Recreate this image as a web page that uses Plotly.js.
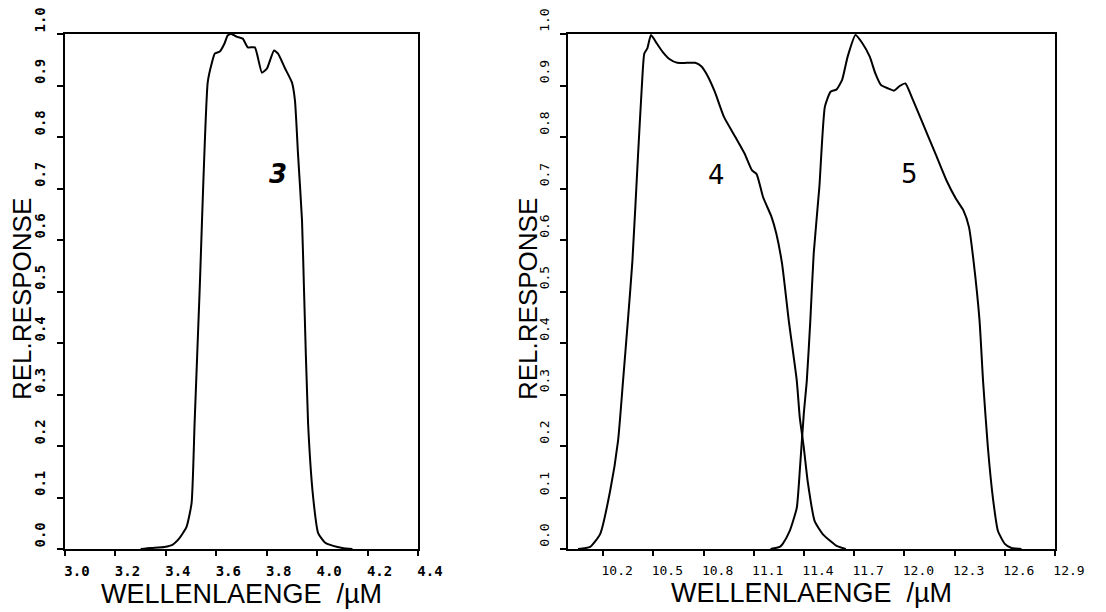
<!DOCTYPE html>
<html>
<head>
<meta charset="utf-8">
<script src="https://cdn.plot.ly/plotly-3.0.1.min.js"></script>
<style>html,body{margin:0;padding:0;background:#fff;}#chart{width:1106px;height:612px;}</style>
</head>
<body>
<div id="chart"></div>
<script>
// ---- data ----
var band3_x = [3.30, 3.34, 3.394, 3.426, 3.454, 3.482, 3.502, 3.514, 3.534, 3.566, 3.582, 3.594, 3.614, 3.633, 3.645, 3.66, 3.68, 3.705, 3.725, 3.753, 3.781, 3.801, 3.829, 3.845, 3.873, 3.900, 3.912, 3.924, 3.940, 3.948, 3.964, 3.984, 4.004, 4.032, 4.064, 4.100, 4.14];
var band3_y = [0.0, 0.002, 0.004, 0.008, 0.021, 0.043, 0.089, 0.244, 0.502, 0.906, 0.943, 0.962, 0.966, 0.982, 0.997, 1.0, 0.995, 0.991, 0.974, 0.974, 0.925, 0.933, 0.968, 0.962, 0.933, 0.906, 0.871, 0.768, 0.638, 0.502, 0.244, 0.101, 0.031, 0.012, 0.006, 0.002, 0.0];

var band4_x = [10.05, 10.122, 10.182, 10.242, 10.289, 10.319, 10.348, 10.375, 10.409, 10.431, 10.446, 10.464, 10.486, 10.520, 10.554, 10.598, 10.643, 10.699, 10.750, 10.788, 10.822, 10.867, 10.922, 10.990, 11.045, 11.090, 11.117, 11.156, 11.206, 11.235, 11.269, 11.309, 11.357, 11.375, 11.399, 11.422, 11.464, 11.512, 11.571, 11.595, 11.65];
var band4_y = [0.0, 0.004, 0.029, 0.113, 0.210, 0.327, 0.444, 0.560, 0.768, 0.897, 0.962, 0.972, 0.998, 0.982, 0.966, 0.951, 0.944, 0.944, 0.944, 0.937, 0.920, 0.888, 0.839, 0.800, 0.768, 0.735, 0.728, 0.683, 0.645, 0.612, 0.554, 0.444, 0.327, 0.255, 0.197, 0.132, 0.054, 0.029, 0.012, 0.006, 0.0];

var band5_x = [11.20, 11.255, 11.273, 11.315, 11.357, 11.375, 11.399, 11.417, 11.438, 11.458, 11.492, 11.525, 11.559, 11.593, 11.628, 11.661, 11.708, 11.749, 11.793, 11.827, 11.860, 11.905, 11.938, 11.972, 12.006, 12.051, 12.118, 12.185, 12.251, 12.308, 12.352, 12.386, 12.413, 12.449, 12.470, 12.499, 12.529, 12.559, 12.60, 12.64, 12.70];
var band5_y = [0.0, 0.004, 0.010, 0.035, 0.080, 0.152, 0.263, 0.327, 0.444, 0.573, 0.703, 0.859, 0.888, 0.892, 0.911, 0.956, 0.998, 0.982, 0.956, 0.923, 0.901, 0.894, 0.890, 0.899, 0.904, 0.872, 0.820, 0.768, 0.716, 0.680, 0.658, 0.625, 0.560, 0.444, 0.327, 0.197, 0.099, 0.035, 0.010, 0.002, 0.0];

var xticks_left = [3.0, 3.2, 3.4, 3.6, 3.8, 4.0, 4.2, 4.4];
var xticks_right = [10.2, 10.5, 10.8, 11.1, 11.4, 11.7, 12.0, 12.3, 12.6, 12.9];
var yticks = [0.0, 0.1, 0.2, 0.3, 0.4, 0.5, 0.6, 0.7, 0.8, 0.9, 1.0];

var band_labels = ["3", "4", "5"];
var band_label_x = [3.845, 10.877, 12.028];
var band_label_y = [0.729, 0.726, 0.728];

var xtitle = "WELLENLAENGE\u00a0\u00a0/\u00b5M";
var ytitle = "REL.RESPONSE";

// ---- chart ----
var W = 1106, H = 612;
var lineStyle = {color: "black", width: 2, shape: "spline", smoothing: 0.5};
var traces = [
  {x: band3_x, y: band3_y, xaxis: "x", yaxis: "y", mode: "lines", line: lineStyle, name: "3", hoverinfo: "skip"},
  {x: band4_x, y: band4_y, xaxis: "x2", yaxis: "y2", mode: "lines", line: lineStyle, name: "4", hoverinfo: "skip"},
  {x: band5_x, y: band5_y, xaxis: "x2", yaxis: "y2", mode: "lines", line: lineStyle, name: "5", hoverinfo: "skip"}
];

function xAxis(domain, range, ticks, bold, shift) {
  return {
    domain: domain, range: range, tickmode: "array", tickvals: ticks,
    ticktext: ticks.map(function (v) { return v.toFixed(1); }),
    ticks: "outside", ticklen: 5, tickwidth: 2, tickcolor: "black",
    showline: true, linewidth: 2, linecolor: "black", mirror: true,
    showgrid: false, zeroline: false, fixedrange: true,
    ticklabelstandoff: 3, ticklabelshift: shift,
    tickfont: {family: "DejaVu Sans Mono", size: bold ? 14 : 13, color: "black", weight: bold ? "bold" : "normal"},
    title: {text: xtitle, font: {family: "Liberation Sans", size: 27, color: "black"}, standoff: 0}
  };
}
function yAxis(bold) {
  return {
    domain: [(H - 549) / H, (H - 34) / H], range: [0, 1], tickmode: "array", tickvals: yticks,
    ticktext: yticks.map(function (v) { return v.toFixed(1); }),
    ticks: "outside", ticklen: 6, tickwidth: 2, tickcolor: "black",
    showline: true, linewidth: 2, linecolor: "black", mirror: true,
    showgrid: false, zeroline: false, fixedrange: true,
    tickangle: -90, ticklabelshift: -12, ticklabelstandoff: 6,
    tickfont: {family: "DejaVu Sans Mono", size: bold ? 14 : 13, color: "black", weight: bold ? "bold" : "normal"}
  };
}

var xa = xAxis([65 / W, 418 / W], [3.0, 4.4], xticks_left, true, 12); xa.anchor = "y";
var xb = xAxis([568 / W, 1055 / W], [9.99, 12.9], xticks_right, false, 14); xb.anchor = "y2";
var ya = yAxis(true); ya.anchor = "x";
var yb = yAxis(false); yb.anchor = "x2";

var annotations = band_labels.map(function (t, i) {
  return {
    text: t, x: band_label_x[i], y: band_label_y[i],
    xref: i === 0 ? "x" : "x2", yref: i === 0 ? "y" : "y2",
    showarrow: false,
    font: {family: "DejaVu Sans", size: 26, color: "black",
           style: i === 0 ? "italic" : "normal", weight: i === 0 ? "bold" : "normal"}
  };
});
// y-axis titles (rotated text beside each axis)
[22, 528].forEach(function (px) {
  annotations.push({
    text: ytitle, xref: "paper", yref: "paper", x: px / W, y: (H - 299) / H,
    xanchor: "center", yanchor: "middle", textangle: -90, showarrow: false,
    font: {family: "Liberation Sans", size: 26, color: "black"}
  });
});

var layout = {
  width: W, height: H, margin: {l: 0, r: 0, t: 0, b: 0},
  paper_bgcolor: "white", plot_bgcolor: "white", showlegend: false,
  xaxis: xa, yaxis: ya, xaxis2: xb, yaxis2: yb,
  annotations: annotations
};

Plotly.newPlot("chart", traces, layout, {displayModeBar: false, staticPlot: true});
</script>
</body>
</html>
